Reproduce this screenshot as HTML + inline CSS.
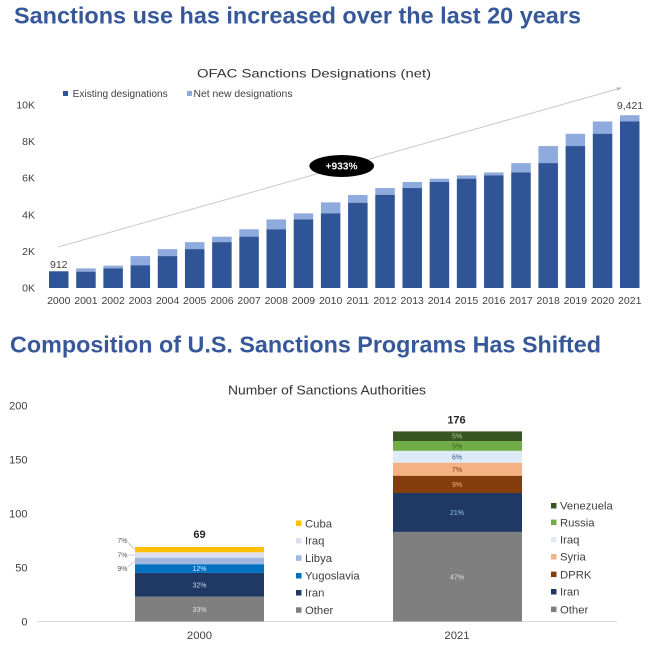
<!DOCTYPE html>
<html>
<head>
<meta charset="utf-8">
<style>
  html,body{margin:0;padding:0;background:#ffffff;}
  svg{display:block;}
  text{font-family:"Liberation Sans", Arial, sans-serif;}
</style>
</head>
<body>
<svg width="650" height="648" viewBox="0 0 650 648" xmlns="http://www.w3.org/2000/svg">
  <rect width="650" height="648" fill="#ffffff"/>

  <!-- Title 1 -->
  <text x="14" y="23.5" font-size="23" font-weight="bold" fill="#36589a" textLength="567" lengthAdjust="spacingAndGlyphs">Sanctions use has increased over the last 20 years</text>

  <!-- Top chart title -->
  <text x="197" y="77.5" font-size="12" fill="#333333" textLength="234" lengthAdjust="spacingAndGlyphs">OFAC Sanctions Designations (net)</text>

  <!-- Legend top -->
  <rect x="63" y="91" width="5" height="5" fill="#2f5597"/>
  <text x="72.7" y="97" font-size="10" fill="#404040" textLength="95" lengthAdjust="spacingAndGlyphs">Existing designations</text>
  <rect x="187" y="91" width="5" height="5" fill="#8faadc"/>
  <text x="193.5" y="97" font-size="10" fill="#404040" textLength="99" lengthAdjust="spacingAndGlyphs">Net new designations</text>

  <!-- Y axis labels top -->
  <g font-size="10.5" fill="#404040" text-anchor="end">
    <text x="35" y="108.3">10K</text>
    <text x="35" y="145">8K</text>
    <text x="35" y="181.7">6K</text>
    <text x="35" y="218.3">4K</text>
    <text x="35" y="255">2K</text>
    <text x="35" y="291.7">0K</text>
  </g>

  <!-- Trend line -->
  <line x1="58" y1="247" x2="619" y2="88.5" stroke="#c8c8c8" stroke-width="1"/>
  <polygon points="622,87.7 616.5,87.3 617.5,90.8" fill="#b8b8b8"/>

  <!-- Bars top -->
  <g>
    <rect x="49.00" y="271.27" width="19.5" height="16.73" fill="#2f5597"/>

    <rect x="76.19" y="268.38" width="19.5" height="3.30" fill="#8faadc"/>
    <rect x="76.19" y="271.68" width="19.5" height="16.32" fill="#2f5597"/>

    <rect x="103.38" y="265.62" width="19.5" height="2.76" fill="#8faadc"/>
    <rect x="103.38" y="268.38" width="19.5" height="19.62" fill="#2f5597"/>

    <rect x="130.57" y="256.09" width="19.5" height="9.17" fill="#8faadc"/>
    <rect x="130.57" y="265.26" width="19.5" height="22.74" fill="#2f5597"/>

    <rect x="157.76" y="249.12" width="19.5" height="6.97" fill="#8faadc"/>
    <rect x="157.76" y="256.09" width="19.5" height="31.91" fill="#2f5597"/>

    <rect x="184.95" y="242.15" width="19.5" height="6.97" fill="#8faadc"/>
    <rect x="184.95" y="249.12" width="19.5" height="38.88" fill="#2f5597"/>

    <rect x="212.14" y="236.65" width="19.5" height="5.50" fill="#8faadc"/>
    <rect x="212.14" y="242.15" width="19.5" height="45.85" fill="#2f5597"/>

    <rect x="239.33" y="229.31" width="19.5" height="7.34" fill="#8faadc"/>
    <rect x="239.33" y="236.65" width="19.5" height="51.35" fill="#2f5597"/>

    <rect x="266.52" y="219.41" width="19.5" height="9.90" fill="#8faadc"/>
    <rect x="266.52" y="229.31" width="19.5" height="58.69" fill="#2f5597"/>

    <rect x="293.71" y="213.36" width="19.5" height="6.05" fill="#8faadc"/>
    <rect x="293.71" y="219.41" width="19.5" height="68.59" fill="#2f5597"/>

    <rect x="320.90" y="202.35" width="19.5" height="11.01" fill="#8faadc"/>
    <rect x="320.90" y="213.36" width="19.5" height="74.64" fill="#2f5597"/>

    <rect x="348.09" y="195.02" width="19.5" height="7.70" fill="#8faadc"/>
    <rect x="348.09" y="202.72" width="19.5" height="85.28" fill="#2f5597"/>

    <rect x="375.28" y="188.04" width="19.5" height="6.79" fill="#8faadc"/>
    <rect x="375.28" y="194.83" width="19.5" height="93.17" fill="#2f5597"/>

    <rect x="402.47" y="182.00" width="19.5" height="6.04" fill="#8faadc"/>
    <rect x="402.47" y="188.04" width="19.5" height="99.96" fill="#2f5597"/>

    <rect x="429.66" y="178.70" width="19.5" height="3.30" fill="#8faadc"/>
    <rect x="429.66" y="182.00" width="19.5" height="106.00" fill="#2f5597"/>

    <rect x="456.85" y="175.39" width="19.5" height="3.31" fill="#8faadc"/>
    <rect x="456.85" y="178.70" width="19.5" height="109.30" fill="#2f5597"/>

    <rect x="484.04" y="172.46" width="19.5" height="2.93" fill="#8faadc"/>
    <rect x="484.04" y="175.39" width="19.5" height="112.61" fill="#2f5597"/>

    <rect x="511.23" y="163.10" width="19.5" height="9.36" fill="#8faadc"/>
    <rect x="511.23" y="172.46" width="19.5" height="115.54" fill="#2f5597"/>

    <rect x="538.42" y="146.05" width="19.5" height="17.05" fill="#8faadc"/>
    <rect x="538.42" y="163.10" width="19.5" height="124.90" fill="#2f5597"/>

    <rect x="565.61" y="133.76" width="19.5" height="12.29" fill="#8faadc"/>
    <rect x="565.61" y="146.05" width="19.5" height="141.95" fill="#2f5597"/>

    <rect x="592.80" y="121.47" width="19.5" height="12.29" fill="#8faadc"/>
    <rect x="592.80" y="133.76" width="19.5" height="154.24" fill="#2f5597"/>

    <rect x="619.99" y="115.22" width="19.5" height="6.25" fill="#8faadc"/>
    <rect x="619.99" y="121.47" width="19.5" height="166.53" fill="#2f5597"/>
  </g>

  <!-- Data labels top -->
  <text x="58.75" y="268" font-size="10.5" fill="#404040" text-anchor="middle">912</text>
  <text x="630" y="109" font-size="10.5" fill="#404040" text-anchor="middle">9,421</text>

  <!-- Ellipse callout -->
  <ellipse cx="341.7" cy="166" rx="32.3" ry="11" fill="#000000"/>
  <text x="341.5" y="169.5" font-size="10" font-weight="bold" fill="#ffffff" text-anchor="middle" textLength="32" lengthAdjust="spacingAndGlyphs">+933%</text>

  <!-- X labels top -->
  <g font-size="10.5" fill="#404040" text-anchor="middle">
    <text x="58.75" y="304">2000</text>
    <text x="85.94" y="304">2001</text>
    <text x="113.13" y="304">2002</text>
    <text x="140.32" y="304">2003</text>
    <text x="167.51" y="304">2004</text>
    <text x="194.70" y="304">2005</text>
    <text x="221.89" y="304">2006</text>
    <text x="249.08" y="304">2007</text>
    <text x="276.27" y="304">2008</text>
    <text x="303.46" y="304">2009</text>
    <text x="330.65" y="304">2010</text>
    <text x="357.84" y="304">2011</text>
    <text x="385.03" y="304">2012</text>
    <text x="412.22" y="304">2013</text>
    <text x="439.41" y="304">2014</text>
    <text x="466.60" y="304">2015</text>
    <text x="493.79" y="304">2016</text>
    <text x="520.98" y="304">2017</text>
    <text x="548.17" y="304">2018</text>
    <text x="575.36" y="304">2019</text>
    <text x="602.55" y="304">2020</text>
    <text x="629.74" y="304">2021</text>
  </g>

  <!-- Title 2 -->
  <text x="10" y="352.3" font-size="23" font-weight="bold" fill="#36589a" textLength="591" lengthAdjust="spacingAndGlyphs">Composition of U.S. Sanctions Programs Has Shifted</text>

  <!-- Bottom chart title -->
  <text x="228" y="394.5" font-size="13" fill="#333333" textLength="198" lengthAdjust="spacingAndGlyphs">Number of Sanctions Authorities</text>

  <!-- Y axis labels bottom -->
  <g font-size="11" fill="#404040" text-anchor="end">
    <text x="27.5" y="409.5">200</text>
    <text x="27.5" y="463.5">150</text>
    <text x="27.5" y="517.5">100</text>
    <text x="27.5" y="571.5">50</text>
    <text x="27.5" y="625.5">0</text>
  </g>

  <!-- Baseline -->
  <line x1="38" y1="621.5" x2="617" y2="621.5" stroke="#d9d9d9" stroke-width="1"/>

  <!-- 2000 stacked bar -->
  <rect x="135" y="596.7" width="129" height="24.8" fill="#7f7f7f"/>
  <rect x="135" y="572.9" width="129" height="23.8" fill="#1f3864"/>
  <rect x="135" y="564.2" width="129" height="8.7" fill="#0070c0"/>
  <rect x="135" y="557.7" width="129" height="6.5" fill="#9fb6e0"/>
  <rect x="135" y="552.3" width="129" height="5.4" fill="#dcdff0"/>
  <rect x="135" y="547.0" width="129" height="5.3" fill="#ffc000"/>

  <g font-size="7" text-anchor="middle">
    <text x="199.5" y="571" fill="#ddeeff">12%</text>
    <text x="199.5" y="587.3" fill="#c8d8f0">32%</text>
    <text x="199.5" y="612" fill="#e0e0e0">33%</text>
  </g>
  <!-- leader labels -->
  <g font-size="7" fill="#595959" text-anchor="end">
    <text x="127.5" y="543">7%</text>
    <text x="127.5" y="557.5">7%</text>
    <text x="127.5" y="571">9%</text>
  </g>
  <g stroke="#bfbfbf" stroke-width="0.8" fill="none">
    <polyline points="128,542.5 135,549.5"/>
    <polyline points="128,555 135,555"/>
    <polyline points="128,567 135,561"/>
  </g>
  <text x="199.5" y="538" font-size="11" font-weight="bold" fill="#262626" text-anchor="middle">69</text>

  <!-- 2021 stacked bar -->
  <rect x="393" y="531.9" width="129" height="89.6" fill="#7f7f7f"/>
  <rect x="393" y="493.0" width="129" height="38.9" fill="#1f3864"/>
  <rect x="393" y="475.7" width="129" height="17.3" fill="#843c0c"/>
  <rect x="393" y="462.7" width="129" height="13.0" fill="#f4b183"/>
  <rect x="393" y="450.8" width="129" height="11.9" fill="#deebf7"/>
  <rect x="393" y="441.1" width="129" height="9.7" fill="#70ad47"/>
  <rect x="393" y="431.4" width="129" height="9.7" fill="#375623"/>

  <g font-size="7" text-anchor="middle">
    <text x="457" y="438.7" fill="#a9d18e">5%</text>
    <text x="457" y="448.5" fill="#375623">5%</text>
    <text x="457" y="459.3" fill="#2f5597">6%</text>
    <text x="457" y="471.8" fill="#843c0c">7%</text>
    <text x="457" y="486.8" fill="#f4b183">9%</text>
    <text x="457" y="515" fill="#9dc3e6">21%</text>
    <text x="457" y="579.3" fill="#e0e0e0">47%</text>
  </g>
  <text x="456.5" y="423.3" font-size="11" font-weight="bold" fill="#262626" text-anchor="middle">176</text>

  <!-- X labels bottom -->
  <g font-size="11.3" fill="#404040" text-anchor="middle">
    <text x="199.5" y="639">2000</text>
    <text x="457" y="639">2021</text>
  </g>

  <!-- Left legend -->
  <g font-size="11.3" fill="#404040">
    <rect x="296" y="520.5" width="5.5" height="5.5" fill="#ffc000"/>
    <text x="305" y="527.3">Cuba</text>
    <rect x="296" y="538" width="5.5" height="5.5" fill="#dcdff0"/>
    <text x="305" y="544.7">Iraq</text>
    <rect x="296" y="555.3" width="5.5" height="5.5" fill="#9fb6e0"/>
    <text x="305" y="562">Libya</text>
    <rect x="296" y="573" width="5.5" height="5.5" fill="#0070c0"/>
    <text x="305" y="579.7">Yugoslavia</text>
    <rect x="296" y="590" width="5.5" height="5.5" fill="#1f3864"/>
    <text x="305" y="596.7">Iran</text>
    <rect x="296" y="607.3" width="5.5" height="5.5" fill="#7f7f7f"/>
    <text x="305" y="614">Other</text>
  </g>

  <!-- Right legend -->
  <g font-size="11.3" fill="#404040">
    <rect x="551" y="503" width="5.5" height="5.5" fill="#375623"/>
    <text x="560" y="509.7">Venezuela</text>
    <rect x="551" y="519.6" width="5.5" height="5.5" fill="#70ad47"/>
    <text x="560" y="526.3">Russia</text>
    <rect x="551" y="537" width="5.5" height="5.5" fill="#deebf7"/>
    <text x="560" y="543.7">Iraq</text>
    <rect x="551" y="554" width="5.5" height="5.5" fill="#f4b183"/>
    <text x="560" y="560.7">Syria</text>
    <rect x="551" y="571.6" width="5.5" height="5.5" fill="#843c0c"/>
    <text x="560" y="578.3">DPRK</text>
    <rect x="551" y="589" width="5.5" height="5.5" fill="#1f3864"/>
    <text x="560" y="595.7">Iran</text>
    <rect x="551" y="606.6" width="5.5" height="5.5" fill="#7f7f7f"/>
    <text x="560" y="613.3">Other</text>
  </g>
</svg>
</body>
</html>
